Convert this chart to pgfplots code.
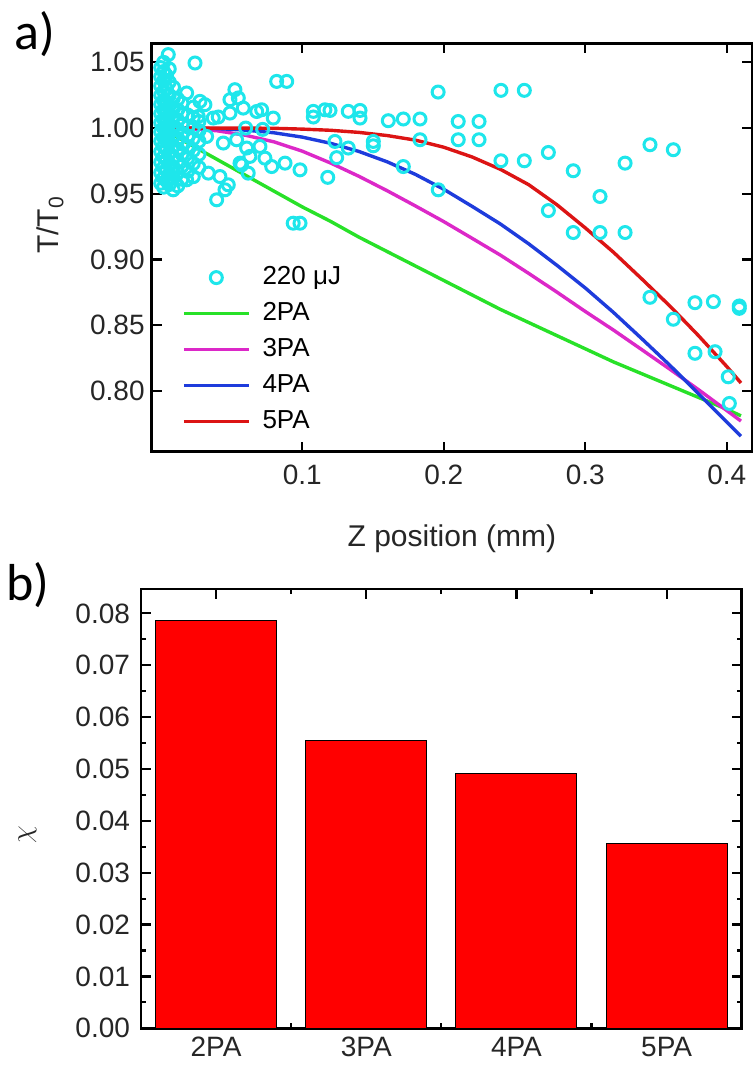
\documentclass[border=0pt]{standalone}
\usepackage{pgfplots}
\pgfplotsset{compat=1.18}
\usepackage{fontspec}
\setmainfont{Liberation Sans}
\newfontfamily\calibri{Carlito}
\definecolor{mycyan}{RGB}{30,230,235}
\definecolor{mygreen}{RGB}{40,225,40}
\definecolor{mymag}{RGB}{220,40,200}
\definecolor{myblue}{RGB}{30,60,220}
\definecolor{myred}{RGB}{220,20,20}

\pgfplotstableread{
z T
0.000 0.958
0.000 0.966
0.000 0.974
0.000 0.982
0.000 0.990
0.000 0.997
0.000 1.004
0.000 1.011
0.000 1.018
0.000 1.025
0.000 1.032
0.000 1.039
0.000 1.046
0.002 0.955
0.002 0.962
0.002 0.970
0.002 0.978
0.002 0.986
0.002 0.993
0.002 1.000
0.002 1.007
0.002 1.014
0.002 1.021
0.002 1.028
0.002 1.036
0.002 1.043
0.002 1.050
0.004 0.960
0.004 0.968
0.004 0.976
0.004 0.984
0.004 0.991
0.004 0.998
0.004 1.005
0.004 1.012
0.004 1.020
0.004 1.030
0.004 1.040
0.006 0.957
0.006 0.965
0.006 0.973
0.006 0.981
0.006 0.989
0.006 0.996
0.006 1.003
0.006 1.010
0.006 1.017
0.006 1.025
0.006 1.035
0.006 1.045
0.009 0.962
0.009 0.970
0.009 0.978
0.009 0.986
0.009 0.994
0.009 1.001
0.009 1.008
0.009 1.015
0.009 1.023
0.009 1.031
0.012 0.956
0.012 0.966
0.012 0.975
0.012 0.984
0.012 0.992
0.012 0.999
0.012 1.006
0.012 1.014
0.012 1.022
0.015 0.961
0.015 0.971
0.015 0.980
0.015 0.988
0.015 0.996
0.015 1.003
0.015 1.011
0.015 1.019
0.019 0.967
0.019 0.977
0.019 0.986
0.019 0.994
0.019 1.001
0.019 1.010
0.023 0.963
0.023 0.973
0.023 0.983
0.023 0.992
0.023 1.000
0.023 1.008
0.023 1.016
0.027 0.970
0.027 0.980
0.027 0.990
0.027 0.998
0.027 1.005
0.0053 1.0559
0.0242 1.0495
0.0819 1.0355
0.0890 1.0355
0.0524 1.0292
0.0489 1.0216
0.0548 1.0229
0.0312 1.0178
0.0406 1.0084
0.0489 1.0114
0.0583 1.0152
0.0678 1.0126
0.0713 1.0139
0.0795 1.0076
0.0183 1.0267
0.0277 1.0203
0.1078 1.0127
0.1160 1.0139
0.1078 1.0084
0.0336 0.9657
0.0418 0.9631
0.0477 0.9568
0.0395 0.9454
0.0088 0.9530
0.0454 0.9530
0.0183 0.9606
0.0878 0.9733
0.0984 0.9682
0.0936 0.9276
0.0984 0.9276
0.0784 0.9707
0.0560 0.9733
0.0618 0.9657
0.0324 0.9936
0.0442 0.9886
0.0536 0.9911
0.0607 0.9848
0.0701 0.9860
0.0736 0.9771
0.0630 0.9784
0.0572 0.9720
0.0265 1.0088
0.0371 1.0076
0.0600 1.0000
0.0720 0.9990
0.1960 1.0274
0.2404 1.0287
0.2569 1.0287
0.1196 1.0134
0.1325 1.0127
0.1408 1.0134
0.1408 1.0076
0.1608 1.0056
0.1714 1.0069
0.1832 1.0069
0.2102 1.0050
0.2249 1.0050
0.2102 0.9911
0.2249 0.9911
0.1832 0.9911
0.1502 0.9898
0.1502 0.9865
0.1231 0.9898
0.1325 0.9848
0.1243 0.9775
0.1180 0.9625
0.1714 0.9707
0.1961 0.9530
0.2404 0.9751
0.2569 0.9751
0.2739 0.9814
0.2915 0.9675
0.3281 0.9733
0.3457 0.9873
0.3622 0.9835
0.3104 0.9479
0.2739 0.9372
0.2915 0.9205
0.3104 0.9205
0.3281 0.9205
0.3457 0.8712
0.3622 0.8545
0.3775 0.8671
0.3905 0.8679
0.4088 0.8646
0.4088 0.8628
0.3775 0.8286
0.3917 0.8298
0.4010 0.8107
0.4018 0.7904
}\scatterdata

\pgfplotstableread{
z T2 T3 T4 T5
0.00 1.000 1.0000 1.0000 1.0000
0.01 0.994 0.9999 1.0000 1.0000
0.02 0.988 0.9996 0.99995 1.0000
0.04 0.976 0.9979 0.9996 1.0000
0.06 0.964 0.9945 0.9984 1.0000
0.08 0.952 0.9895 0.9964 0.9998
0.10 0.940 0.9824 0.9931 0.9992
0.12 0.929 0.9734 0.9884 0.9983
0.14 0.917 0.9633 0.9822 0.9967
0.16 0.906 0.9523 0.9743 0.9943
0.18 0.895 0.9407 0.9647 0.9908
0.20 0.884 0.9288 0.9534 0.9854
0.22 0.873 0.9161 0.9404 0.9780
0.24 0.862 0.9033 0.9270 0.9686
0.26 0.852 0.8894 0.9119 0.9569
0.28 0.842 0.8751 0.8955 0.9416
0.30 0.832 0.8604 0.8783 0.9240
0.32 0.822 0.8462 0.8596 0.9054
0.34 0.813 0.8313 0.8396 0.8851
0.36 0.804 0.8163 0.8192 0.8643
0.38 0.795 0.8009 0.7978 0.8420
0.40 0.786 0.7850 0.7762 0.8185
0.41 0.781 0.7770 0.7655 0.8060
}\curvedata

\pgfplotstableread{
x chi
1 0.0787
2 0.0554
3 0.0492
4 0.0357
}\bardata

\pgfplotsset{
  common/.style={
    scale only axis,
    tick align=inside,
    major tick length=5pt,
    minor tick length=2.5pt,
    tick style={line width=1.1pt, black},
    axis line style={line width=1.3pt},
    /pgf/number format/assume math mode=true,
    tick label style={font=\fontsize{14}{16}\selectfont, text=black!85},
    label style={font=\fontsize{15}{18}\selectfont, text=black!85},
  },
  lineleg/.style={legend image code/.code={\draw[##1] (0pt,0pt) -- (32.5pt,0pt);}},
  markleg/.style={legend image code/.code={\draw[mark repeat=2,mark phase=2,##1] plot coordinates {(0pt,0pt) (16.25pt,0pt) (32.5pt,0pt)};}},
}

\begin{document}
\begin{tikzpicture}
\useasboundingbox (0,0) rectangle (376.5pt,-534.5pt);

\begin{axis}[common,
  at={(75.85pt,-225.85pt)}, anchor=south west,
  width=300.15pt, height=204.2pt,
  xmin=-0.0064, xmax=0.4178, ymin=0.7537, ymax=1.0645,
  xtick={0.1,0.2,0.3,0.4},
  ytick={0.8,0.85,0.9,0.95,1.0,1.05},
  xticklabel style={yshift=-3pt, /pgf/number format/.cd, fixed, precision=1},
  yticklabel style={/pgf/number format/.cd, fixed, fixed zerofill, precision=2},
  xlabel={Z position (mm)},
  ylabel={T/T\textsubscript{0}},
  xlabel style={at={(axis description cs:0.5,0)}, anchor=base, yshift=-47.5pt},
  ylabel style={at={(axis description cs:-0.169,0.555)}, anchor=center},
  legend cell align=left,
  legend style={at={(0.05,0.25)}, anchor=west, draw=none, fill=none,
    inner sep=0pt, row sep=6pt, column sep=6pt,
    font=\fontsize{13}{15}\selectfont,
    nodes={inner sep=0pt, text height=9.5pt, text depth=2.5pt}},
]
\addplot[only marks, mark=o, mark size=3pt, color=mycyan, line width=1.5pt, markleg]
  table[x=z, y=T] {\scatterdata};
\addlegendentry{220 μJ}
\addplot[mygreen, line width=1.7pt, lineleg] table[x=z, y=T2] {\curvedata};
\addlegendentry{2PA}
\addplot[mymag, line width=1.7pt, lineleg] table[x=z, y=T3] {\curvedata};
\addlegendentry{3PA}
\addplot[myblue, line width=1.7pt, lineleg] table[x=z, y=T4] {\curvedata};
\addlegendentry{4PA}
\addplot[myred, line width=1.7pt, lineleg] table[x=z, y=T5] {\curvedata};
\addlegendentry{5PA}
\end{axis}

\begin{axis}[common,
  at={(70.5pt,-514.15pt)}, anchor=south west,
  width=300.35pt, height=219.65pt,
  xmin=0.5, xmax=4.5, ymin=0, ymax=0.0847,
  xtick={1,2,3,4}, xticklabels={2PA,3PA,4PA,5PA},
  minor xtick={1.5,2.5,3.5},
  ytick={0,0.01,0.02,0.03,0.04,0.05,0.06,0.07,0.08},
  minor y tick num=1,
  scaled y ticks=false,
  yticklabel style={xshift=-2pt, /pgf/number format/.cd, fixed, fixed zerofill, precision=2},
  xticklabel style={yshift=-1pt},
  ylabel={$\chi$},
  ylabel style={at={(axis description cs:-0.189,0.44)}, anchor=center},
]
\addplot[ybar, bar width=0.805, fill=red, draw=black, line width=0.5pt] table[x=x, y=chi] {\bardata};
\end{axis}

\node[anchor=base west, font=\calibri\fontsize{26}{30}\selectfont, inner sep=0pt] at (7pt,-25pt) {a)};
\node[anchor=base west, font=\calibri\fontsize{26}{30}\selectfont, inner sep=0pt] at (3pt,-300pt) {b)};
\end{tikzpicture}
\end{document}
